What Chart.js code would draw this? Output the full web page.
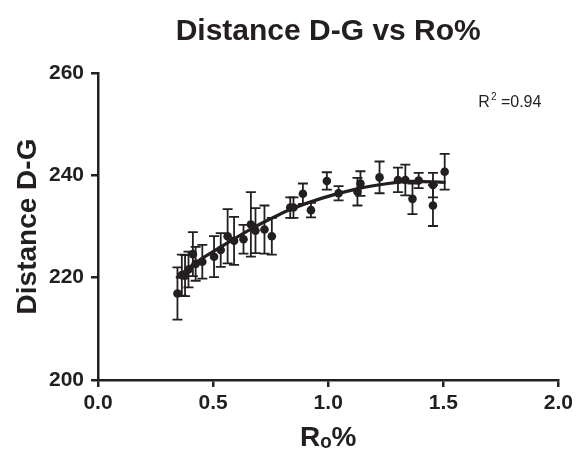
<!DOCTYPE html>
<html>
<head>
<meta charset="utf-8">
<script src="https://cdn.jsdelivr.net/npm/chart.js@4/dist/chart.umd.min.js"></script>
<style>
  html,body{margin:0;padding:0;background:#fff;overflow:hidden}
  #wrap{width:579px;height:453px}
</style>
</head>
<body>
<div id="wrap"><canvas id="chart"></canvas></div>
<script>
// measured points (Ro%, distance D-G, error)
const roVals   = [0.345,0.364,0.378,0.393,0.412,0.424,0.453,0.504,0.533,0.563,0.591,0.632,0.664,0.684,0.723,0.755,
                  0.835,0.849,0.890,0.925,0.994,1.045,1.127,1.140,1.223,1.303,1.335,1.366,1.393,1.455,1.455,1.506];
const distVals = [216.9,220.5,220.4,221.6,224.6,222.7,223.1,224.1,225.4,228.1,227.2,227.5,230.4,229.2,229.4,228.1,
                  233.7,233.7,236.4,233.2,238.9,236.5,236.8,238.4,239.6,239.1,239.1,235.4,239.0,238.1,234.1,240.7];
const errVals  = [5.1,4.0,4.0,3.5,4.3,3.3,3.3,4.0,3.3,5.3,4.7,2.8,6.3,4.4,4.7,3.6,
                  2.0,2.0,2.0,1.4,1.7,1.4,2.7,2.4,3.1,2.4,3.0,3.0,1.5,2.4,4.0,3.5];

// fitted curve
const fitX = [0.34,0.42,0.53,0.66,0.75,0.84,0.97,1.13,1.26,1.36,1.51];
const fitY = [219.9,222.8,225.9,229.4,231.5,233.4,235.5,237.4,238.4,238.8,238.6];

const chartTitle = 'Distance D-G vs Ro%';
const rSquared = '0.94';

const ink = '#231f20';
const fontFam = "'Liberation Sans', Arial, Helvetica, sans-serif";

// error bars with caps
const errorBars = {
  id: 'errorBars',
  beforeDatasetsDraw(chart){
    const { ctx, scales: { x, y } } = chart;
    ctx.save();
    ctx.strokeStyle = ink;
    ctx.lineWidth = 1.8;
    roVals.forEach((r, i) => {
      const px = x.getPixelForValue(r);
      const top = y.getPixelForValue(distVals[i] + errVals[i]);
      const bot = y.getPixelForValue(distVals[i] - errVals[i]);
      ctx.beginPath();
      ctx.moveTo(px, top); ctx.lineTo(px, bot);
      ctx.moveTo(px - 5, top); ctx.lineTo(px + 5, top);
      ctx.moveTo(px - 5, bot); ctx.lineTo(px + 5, bot);
      ctx.stroke();
    });
    ctx.restore();
  }
};

// title centred over the plot, R^2 label in the top right corner
const labels = {
  id: 'labels',
  afterDraw(chart){
    const { ctx, chartArea } = chart;
    ctx.save();
    ctx.fillStyle = ink;
    ctx.textBaseline = 'middle';
    ctx.textAlign = 'center';
    ctx.font = 'bold 30px ' + fontFam;
    ctx.fillText(chartTitle, (chartArea.left + chartArea.right) / 2, 32);

    ctx.textBaseline = 'alphabetic';
    ctx.textAlign = 'left';
    const yPos = chartArea.top + 34;
    ctx.font = '16px ' + fontFam;
    const wR = ctx.measureText('R').width;
    const wRest = ctx.measureText(' =' + rSquared).width;
    ctx.font = '10px ' + fontFam;
    const w2 = ctx.measureText('2').width;
    let xPos = chartArea.right - 17 - (wR + 1 + w2 + wRest);
    ctx.font = '16px ' + fontFam;
    ctx.fillText('R', xPos, yPos);
    xPos += wR + 1;
    ctx.font = '10px ' + fontFam;
    ctx.fillText('2', xPos, yPos - 7);
    xPos += w2;
    ctx.font = '16px ' + fontFam;
    ctx.fillText(' =' + rSquared, xPos, yPos);
    ctx.restore();
  }
};

const axisCommon = {
  border: { display: true, color: ink, width: 2.5 },
  grid: { display: true, drawOnChartArea: false, drawTicks: true, tickLength: 7, color: ink, lineWidth: 2.5 },
  ticks: { color: ink, font: { family: fontFam, size: 21, weight: 'bold', lineHeight: 1 }, padding: 7 }
};

new Chart(document.getElementById('chart'), {
  type: 'scatter',
  data: {
    datasets: [
      {
        label: 'fit',
        data: fitX.map((v, i) => ({ x: v, y: fitY[i] })),
        showLine: true,
        borderColor: ink,
        borderWidth: 3.2,
        pointRadius: 0,
        tension: 0.4,
        fill: false
      },
      {
        label: 'Distance D-G',
        data: roVals.map((v, i) => ({ x: v, y: distVals[i] })),
        backgroundColor: ink,
        borderColor: ink,
        pointRadius: 4.3,
        pointBorderWidth: 0
      }
    ]
  },
  options: {
    responsive: true,
    maintainAspectRatio: false,
    animation: false,
    layout: { padding: { left: 6, right: 17, top: 73, bottom: 1 } },
    plugins: {
      legend: { display: false },
      tooltip: { enabled: false },
      title: { display: false }
    },
    scales: {
      x: {
        ...axisCommon,
        type: 'linear',
        min: 0, max: 2,
        ticks: { ...axisCommon.ticks, padding: 6, stepSize: 0.5, callback: v => v.toFixed(1) },
        title: { display: true, text: 'Rₒ%', color: ink, font: { family: fontFam, size: 28, weight: 'bold', lineHeight: 1 }, padding: { top: 4, bottom: 0 } }
      },
      y: {
        ...axisCommon,
        min: 200, max: 260,
        ticks: { ...axisCommon.ticks, stepSize: 20 },
        title: { display: true, text: 'Distance D-G', color: ink, font: { family: fontFam, size: 28, weight: 'bold', lineHeight: 1 }, padding: { top: 8, bottom: 0 } }
      }
    }
  },
  plugins: [errorBars, labels]
});
</script>
</body>
</html>
